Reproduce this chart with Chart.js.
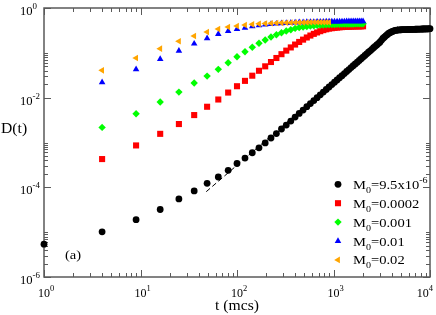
<!DOCTYPE html>
<html><head><meta charset="utf-8">
<script src="https://cdn.jsdelivr.net/npm/chart.js@4"></script>
<style>html,body{margin:0;padding:0;background:#fff}#wrap{width:436px;height:315px}</style>
</head><body><div id="wrap"><canvas id="c" width="436" height="315"></canvas></div>
<script>
// ---------- data ----------
const tBlack = [1,4,9,16,25,36,49,64,81,100,121,144,169,196,225,256,289,324,361,400,441,484,529,576,625,676,729,784,841,900,961,1024,1089,1156,1225,1296,1369,1444,1521,1600,1681,1764,1849,1936,2025,2116,2209,2304,2401,2500,2601,2704,2809,2916,3025,3136,3249,3364,3481,3600,3721,3844,3969,4096,4225,4356,4489,4624,4761,4900,5041,5184,5329,5476,5625,5776,5929,6084,6241,6400,6561,6724,6889,7056,7225,7396,7569,7744,7921,8100,8281,8464,8649,8836,9025,9216,9409,9604,9801,10000];
const dBlack = [5.4e-6,1.02e-5,1.9e-5,3.2e-5,5.5e-5,8.3e-5,1.23e-4,1.7e-4,2.4e-4,3.4e-4,
4.5e-4,5.9e-4,7.6e-4,9.8e-4,1.26e-3,1.58e-3,2.0e-3,2.45e-3,3.0e-3,3.7e-3,
4.45e-3,5.3e-3,6.3e-3,7.4e-3,8.6e-3,1.0e-2,1.16e-2,1.33e-2,1.52e-2,1.73e-2,
1.96e-2,2.21e-2,2.48e-2,2.78e-2,3.10e-2,3.45e-2,3.83e-2,4.24e-2,4.68e-2,5.15e-2,
5.66e-2,6.2e-2,6.78e-2,7.4e-2,8.06e-2,8.77e-2,9.5e-2,0.103,0.111,0.120,
0.130,0.140,0.150,0.161,0.173,0.19,0.21,0.224,0.24,0.254,
0.27,0.282,0.292,0.30,0.31,0.316,0.32,0.322,0.324,0.326,
0.327,0.328,0.329,0.33,0.33,0.331,0.332,0.332,0.333,0.333,
0.334,0.335,0.335,0.336,0.336,0.337,0.337,0.338,0.338,0.339,
0.34,0.34,0.341,0.341,0.342,0.342,0.343,0.343,0.344,0.345];
const tColor = [4,9,16,25,36,49,64,81,100,121,144,169,196,225,256,289,324,361,400,441,484,529,576,625,676,729,784,841,900,961,1024,1089,1156,1225,1296,1369,1444,1521,1600,1681,1764,1849,1936,2025];
const dRed = [4.27e-4,8.6e-4,1.56e-3,2.58e-3,4.09e-3,6.27e-3,9.1e-3,1.30e-2,1.80e-2,2.37e-2,3.09e-2,3.98e-2,5.0e-2,6.24e-2,7.67e-2,9.33e-2,0.112,0.132,0.153,0.175,0.197,0.22,0.243,0.265,0.285,0.304,0.321,0.335,0.347,0.354,0.361,0.366,0.371,0.375,0.378,0.38,0.382,0.384,0.386,0.387,0.388,0.389,0.39,0.391];
const dGreen = [0.00217,0.00438,0.00798,0.0133,0.0212,0.0303,0.0428,0.0603,0.0818,0.106,0.133,0.163,0.193,0.225,0.254,0.281,0.307,0.328,0.351,0.366,0.378,0.388,0.396,0.403,0.409,0.414,0.418,0.422,0.425,0.428,0.43,0.432,0.434,0.436,0.437,0.438,0.439,0.44,0.441,0.442,0.443,0.443,0.444,0.445];
const dBlue = [0.022,0.0429,0.0728,0.111,0.16,0.211,0.263,0.307,0.34,0.363,0.39,0.41,0.425,0.437,0.447,0.455,0.462,0.468,0.473,0.477,0.481,0.484,0.487,0.489,0.491,0.493,0.495,0.496,0.497,0.498,0.499,0.5,0.5,0.501,0.501,0.502,0.502,0.503,0.503,0.504,0.504,0.505,0.505,0.505];
const tOrange = [4,9,16,25,36,49,64,81,100,121,144,169,196,225,256,289,324,361,400,441,484,529,576,625,676,729,784,841,900];
const dOrange = [0.0407,0.0766,0.124,0.181,0.237,0.291,0.34,0.377,0.398,0.417,0.432,0.443,0.451,0.457,0.462,0.466,0.469,0.471,0.473,0.475,0.476,0.477,0.478,0.479,0.48,0.48,0.481,0.481,0.482];
const tFit = [48, 4700];
const dFit = [8.0e-5, 0.39];
const xTickVals = [1,10,100,1000,10000];
const xTickExp = ['0','1','2','3','4'];
const yTickVals = [1e-6,1e-4,1e-2,1];
const yTickExp = ['-6','-4','-2','0'];
const legendMain = ['=9.5x10','=0.0002','=0.001','=0.01','=0.02'];
const legendSup = ['-6','','','',''];

// ---------- helpers ----------
const FONT = '"Liberation Serif","Times New Roman",serif';
const AX = '#5a5a5a';
function rich(ctx, parts, x, y, align, sx, maxRight) {
  let w = 0;
  for (const p of parts) { ctx.font = p[1] + 'px ' + FONT; w += ctx.measureText(p[0]).width; }
  w *= sx;
  let x0 = align === 'center' ? x - w / 2 : align === 'right' ? x - w : x;
  if (maxRight !== undefined && x0 + w > maxRight) x0 = maxRight - w;
  ctx.save();
  ctx.translate(x0, y); ctx.scale(sx, 1);
  ctx.textAlign = 'left'; ctx.textBaseline = 'alphabetic'; ctx.fillStyle = '#000';
  let cx = 0;
  for (const p of parts) { ctx.font = p[1] + 'px ' + FONT; ctx.fillText(p[0], cx, p[2]); cx += ctx.measureText(p[0]).width; }
  ctx.restore();
}
function marker(ctx, style, x, y, r, color) {
  ctx.save(); ctx.fillStyle = color; ctx.beginPath();
  if (style === 'circle') { ctx.arc(x, y, r, 0, Math.PI * 2); }
  else if (style === 'rect') { const s = r * Math.SQRT1_2; ctx.rect(x - s, y - s, 2 * s, 2 * s); }
  else if (style === 'rectRot') { ctx.moveTo(x, y - r); ctx.lineTo(x + r, y); ctx.lineTo(x, y + r); ctx.lineTo(x - r, y); ctx.closePath(); }
  else if (style === 'triangle') { for (let k = 0; k < 3; k++) { const a = k * 2 * Math.PI / 3; const px = x + Math.sin(a) * r, py = y - Math.cos(a) * r; k ? ctx.lineTo(px, py) : ctx.moveTo(px, py); } ctx.closePath(); }
  else if (style === 'left') { for (let k = 0; k < 3; k++) { const a = -Math.PI / 2 + k * 2 * Math.PI / 3; const px = x + Math.sin(a) * r, py = y - Math.cos(a) * r; k ? ctx.lineTo(px, py) : ctx.moveTo(px, py); } ctx.closePath(); }
  ctx.fill(); ctx.restore();
}

const series = [
  {t: tBlack, d: dBlack, color: '#000000', style: 'circle', r: 3.4, rot: 0, order: 5},
  {t: tColor, d: dRed, color: '#ff0000', style: 'rect', r: 4.3, rot: 0, order: 4},
  {t: tColor, d: dGreen, color: '#00ff00', style: 'rectRot', r: 3.7, rot: 0, order: 3},
  {t: tColor, d: dBlue, color: '#0000ff', style: 'triangle', r: 3.8, rot: 0, order: 2},
  {t: tOrange, d: dOrange, color: '#ffa500', style: 'triangle', r: 3.8, rot: -90, order: 1}
];
const legendStyles = ['circle', 'rect', 'rectRot', 'triangle', 'left'];

const datasets = series.map(s => ({
  data: s.t.map((x, i) => ({x, y: s.d[i]})),
  showLine: false, pointStyle: s.style, pointRadius: s.r, pointHoverRadius: s.r,
  pointRotation: s.rot, backgroundColor: s.color, borderColor: s.color, borderWidth: 0,
  order: s.order, clip: false
}));
datasets.push({
  data: tFit.map((x, i) => ({x, y: dFit[i]})),
  showLine: true, pointRadius: 0, borderColor: '#000', borderWidth: 1, borderDash: [5, 3],
  order: 6, clip: false
});

const framePlugin = {
  id: 'frame',
  beforeDatasetsDraw(chart) {
    const {ctx, chartArea: a, scales: {x, y}} = chart;
    ctx.save();
    ctx.strokeStyle = AX; ctx.lineWidth = 1;
    const MAJ = 7, MIN = 4;
    const xt = [];
    for (let k = 0; k <= 4; k++) { xt.push([Math.pow(10, k), MAJ]); if (k < 4) for (let j = 2; j <= 9; j++) xt.push([j * Math.pow(10, k), MIN]); }
    for (const [v, len] of xt) {
      const px = Math.round(x.getPixelForValue(v)) + 0.5;
      ctx.beginPath(); ctx.moveTo(px, a.bottom); ctx.lineTo(px, a.bottom - len);
      ctx.moveTo(px, a.top); ctx.lineTo(px, a.top + len); ctx.stroke();
    }
    const yt = [];
    for (const k of [-6, -4, -2, 0]) { yt.push([Math.pow(10, k), MAJ]); if (k < 0) for (let j = 2; j <= 10; j++) yt.push([j * Math.pow(10, k), MIN]); }
    for (const [v, len] of yt) {
      const py = Math.round(y.getPixelForValue(v)) + 0.5;
      ctx.beginPath(); ctx.moveTo(a.left, py); ctx.lineTo(a.left + len, py);
      ctx.moveTo(a.right, py); ctx.lineTo(a.right - len, py); ctx.stroke();
    }
    ctx.lineWidth = 1.5;
    ctx.strokeRect(a.left, a.top, a.right - a.left, a.bottom - a.top);
    ctx.restore();
  },
  afterDraw(chart) {
    const {ctx, chartArea: a, scales: {x, y}} = chart;
    xTickVals.forEach((v, i) => {
      const px = x.getPixelForValue(v);
      rich(ctx, [['10', 12, 0], [xTickExp[i], 8.5, -6]], px + 2, a.bottom + 20, 'center', 1.0, 433);
    });
    yTickVals.forEach((v, i) => {
      const py = y.getPixelForValue(v);
      rich(ctx, [['10', 12, 0], [yTickExp[i], 8.5, -6]], 20, py + 7, 'left', 1.05);
    });
    rich(ctx, [['D(t)', 14, 0]], 1, 132.5, 'left', 1.12);
    rich(ctx, [['t (mcs)', 14, 0]], (a.left + a.right) / 2 + 0, 309.5, 'center', 1.12);
    rich(ctx, [['(a)', 13, 0]], 65, 258.5, 'left', 1.12);
    // legend
    const rows = [184.3, 203.2, 222.1, 241, 259.9];
    rows.forEach((ry, i) => {
      const s = series[i];
      marker(ctx, legendStyles[i], 338, ry, s.r, s.color);
      const parts = [['M', 13, 0], ['0', 9, 4], [legendMain[i], 13, 0]];
      if (legendSup[i]) parts.push([legendSup[i], 9, -6]);
      rich(ctx, parts, 353, ry + 4.5, 'left', 1.12);
    });
  }
};

new Chart(document.getElementById('c'), {
  type: 'scatter',
  data: {datasets},
  options: {
    responsive: false, animation: false, devicePixelRatio: 1,
    layout: {padding: {top: 8, right: 6, left: 0, bottom: 0}},
    plugins: {legend: {display: false}, tooltip: {enabled: false}},
    scales: {
      x: {type: 'logarithmic', min: 1, max: 10000, grid: {display: false}, border: {display: false},
          ticks: {display: false}, afterFit(s) { s.height = 38; }},
      y: {type: 'logarithmic', min: 1e-6, max: 1, grid: {display: false}, border: {display: false},
          ticks: {display: false}, afterFit(s) { s.width = 44; }}
    }
  },
  plugins: [framePlugin]
});
</script>
</body></html>
